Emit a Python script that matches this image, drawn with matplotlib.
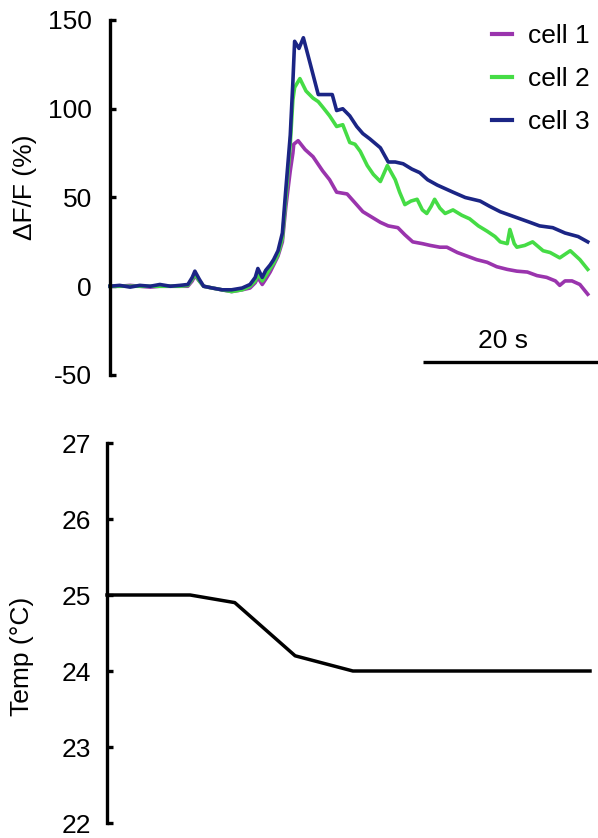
import matplotlib
matplotlib.use("Agg")
import matplotlib.pyplot as plt

# ---------------- data ----------------
# cell traces: time (s) and dF/F (%)
base_t = [0, 1.1, 2.3, 3.4, 4.6, 5.7, 6.9, 8.0, 8.9, 9.4, 9.7, 10.2, 10.7, 11.7,
          12.8, 13.9, 15.1, 16.0, 16.6, 16.9, 17.4, 17.8, 18.3, 18.7, 19.2, 19.7,
          20.1, 20.6, 20.9]

cell3_base = [0, 0.5, -0.5, 0.5, 0, 1, 0, 0.5, 1, 5, 8.5, 4, 0, -1, -2, -2, -1, 1,
              5, 10, 5, 9, 12, 15, 20, 30, 55, 85, 115]
cell2_base = [0, 0, 0, 0, 0, 0, 0, 0, 0.5, 4, 7, 3, 0, -1, -2, -3, -2, 0, 3, 7, 3,
              6, 10, 13, 18, 27, 50, 80, 105]
cell1_base = [0, 0, 0.5, 0, -0.5, 0, 0, 0, 0, 3, 6, 3, 0, -1, -2, -3, -2, -1, 2, 5,
              1, 4, 8, 12, 17, 25, 45, 65, 75]

cell3_t = [21.1, 21.6, 22.1, 22.9, 23.8, 24.6, 25.4, 25.9, 26.6, 27.4, 28.2, 28.9,
           29.7, 30.9, 31.8, 32.6, 33.5, 34.5, 35.4, 36.3, 37.4, 38.3, 39.2, 40.6,
           42.3, 43.4, 44.6, 46.3, 48.0, 49.1, 50.6, 52.0, 53.5, 54.6]
cell3_v = [138, 134, 140, 125, 108, 108, 108, 99, 100, 96, 90, 86, 83, 78, 70, 70,
           69, 66, 64, 60, 57, 55, 53, 50, 48, 45, 42, 39, 36, 34, 33, 30, 28, 25]

cell2_t = [21.1, 21.7, 22.4, 23.2, 23.8, 24.3, 25.1, 25.9, 26.6, 27.4, 28.0, 28.6,
           29.4, 30.1, 30.9, 31.7, 32.6, 33.1, 33.7, 34.4, 35.1, 35.7, 36.2, 36.7,
           37.1, 37.7, 38.3, 39.2, 40.2, 41.1, 42.1, 43.1, 44.0, 44.6, 45.4, 45.7,
           46.2, 46.5, 47.4, 48.3, 49.5, 50.3, 51.4, 52.6, 53.7, 54.6]
cell2_v = [112, 117, 110, 106, 104, 101, 96, 90, 91, 81, 80, 76, 68, 63, 59, 68, 60,
           53, 46, 48, 49, 43, 41, 45, 49, 44, 41, 43, 40, 38, 34, 31, 28, 25, 24, 32,
           24, 22, 23, 25, 20, 19, 16, 20, 15, 9.5]

cell1_t = [21.0, 21.5, 22.3, 23.2, 24.3, 25.1, 25.9, 27.1, 28.0, 28.9, 29.9, 30.9,
           31.8, 32.9, 33.7, 34.6, 35.7, 36.6, 37.7, 38.5, 39.7, 40.8, 41.9, 43.1,
           44.2, 45.4, 46.5, 47.7, 48.8, 49.9, 50.9, 51.4, 52.0, 52.8, 53.7, 54.6]
cell1_v = [80, 82, 77, 73, 65, 60, 53, 52, 47, 42, 39, 36, 34, 33, 29, 25, 24, 23, 22,
           22, 19, 17, 15, 13.5, 11, 9.5, 8.5, 8, 6, 5, 3, 0.5, 3, 3, 1, -4.5]

labels = ["cell 1", "cell 2", "cell 3"]
colors = ["#9a34ad", "#45dc45", "#1b2585"]

# temperature
temp_t = [0, 9.5, 14.6, 21.5, 28.1, 55.2]
temp_v = [25, 25, 24.9, 24.2, 24.0, 24.0]

top_yticks = [-50, 0, 50, 100, 150]
bot_yticks = [22, 23, 24, 25, 26, 27]
scalebar_s = 20

# ---------------- figure ----------------
plt.rcParams['font.family'] = ['Liberation Sans', 'DejaVu Sans']
plt.rcParams['font.size'] = 19
plt.rcParams['axes.unicode_minus'] = False

W, H = 598, 838
fig = plt.figure(figsize=(W / 100, H / 100), dpi=100)

px_per_s = 8.75
# top axes
x0_top = 110
ax1 = fig.add_axes([x0_top / W, (H - 375) / H, (W - x0_top) / W, 355 / H])
ax1.set_xlim(0, (W - x0_top) / px_per_s)
ax1.set_ylim(-50, 150)

series = [(cell1_base + cell1_v, base_t + cell1_t),
          (cell2_base + cell2_v, base_t + cell2_t),
          (cell3_base + cell3_v, base_t + cell3_t)]
for (v, t), lab, c in zip(series, labels, colors):
    ax1.plot(t, v, color=c, lw=2.6, label=lab, solid_joinstyle='round', clip_on=False)

for s in ['top', 'right', 'bottom']:
    ax1.spines[s].set_visible(False)
ax1.spines['left'].set_linewidth(2.4)
ax1.spines['left'].set_bounds(-50, 150)
ax1.set_xticks([])
ax1.set_yticks(top_yticks)
ax1.tick_params(axis='y', direction='in', length=4, width=2.4, pad=13)
ax1.set_ylabel("ΔF/F (%)", va='center')
ax1.yaxis.set_label_coords(25 / W, (H - 187) / H, transform=fig.transFigure)

leg = ax1.legend(loc='upper left', bbox_to_anchor=(492 / W, (H - 24) / H),
                 bbox_transform=fig.transFigure, frameon=False, handlelength=0.75,
                 handletextpad=0.6, labelspacing=0.72, borderpad=0, borderaxespad=0)
for ln in leg.get_lines():
    ln.set_linewidth(3)

# scale bar
sb_end = (W - x0_top) / px_per_s
ax1.plot([sb_end - scalebar_s, sb_end], [-42.6, -42.6], color='black', lw=2.4,
         clip_on=False, solid_capstyle='butt')
ax1.text(sb_end - scalebar_s + 9.1, -31, f"{scalebar_s} s", ha='center', va='center')

# bottom axes
x0_bot = 107
ax2 = fig.add_axes([x0_bot / W, (H - 823) / H, (W - x0_bot) / W, 380 / H])
ax2.set_xlim(0, (W - x0_bot) / px_per_s)
ax2.set_ylim(22, 27)
ax2.plot(temp_t, temp_v, color='black', lw=2.5, clip_on=False)
for s in ['top', 'right', 'bottom']:
    ax2.spines[s].set_visible(False)
ax2.spines['left'].set_linewidth(2.4)
ax2.spines['left'].set_bounds(22, 27)
ax2.set_xticks([])
ax2.set_yticks(bot_yticks)
ax2.tick_params(axis='y', direction='in', length=4, width=2.4, pad=11.5)
ax2.set_ylabel("Temp (°C)", va='center')
ax2.yaxis.set_label_coords(22 / W, (H - 656) / H, transform=fig.transFigure)

fig.savefig("out.png", dpi=100)
